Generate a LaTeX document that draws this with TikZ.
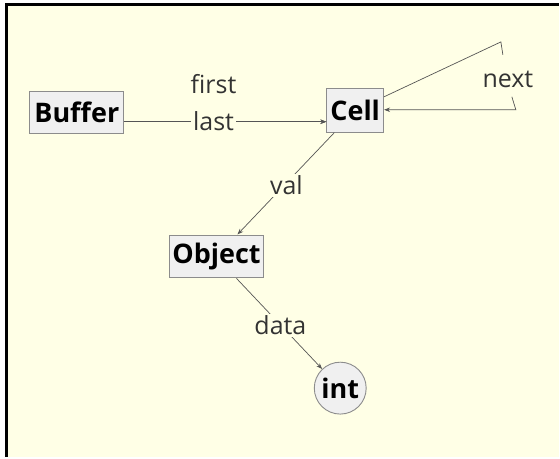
\documentclass[tikz,border=0pt]{standalone}
\usepackage{fontspec}
\setmainfont{Open Sans}
\usetikzlibrary{arrows.meta,calc}
\definecolor{paper}{HTML}{FFFFE6}
\definecolor{boxfill}{HTML}{F0F0F0}
\definecolor{boxline}{HTML}{8C8C8C}
\definecolor{edgecol}{HTML}{555555}
\definecolor{labcol}{HTML}{333333}
\begin{document}
\begin{tikzpicture}[x=1pt,y=-1pt,
  classbox/.style={draw=boxline,fill=boxfill,line width=0.9pt,rectangle,inner sep=0pt,
    font=\fontsize{27}{30}\selectfont\bfseries},
  primbox/.style={draw=boxline,fill=boxfill,line width=0.9pt,circle,inner sep=0pt,
    minimum size=52pt,font=\fontsize{27}{30}\selectfont\bfseries},
  edge/.style={draw=edgecol,line width=0.7pt},
  link/.style={edge,-{Stealth[length=6pt,width=4.5pt]}},
  elabel/.style={text=labcol,font=\fontsize{25}{28}\selectfont,inner sep=2pt},
  cutlabel/.style={elabel,fill=paper}]
  % page, canvas and frame
  \fill[white] (0,0) rectangle (560,458);
  \fill[paper] (7,5) rectangle (560,458);
  \draw[black,line width=2.5pt] (6.5,458) -- (6.5,4.5) -- (560,4.5);
  \useasboundingbox (0,0) rectangle (560,458);

  % types
  \node[classbox,minimum width=94pt,minimum height=42pt] (buffer) at (77,113) {Buffer};
  \node[classbox,minimum width=57pt,minimum height=44pt] (cell) at (356,111) {Cell};
  \node[classbox,minimum width=94pt,minimum height=42pt] (object) at (217,257) {Object};
  \node[primbox] (int) at (341,389) {int};

  % attachment points
  \coordinate (bufout) at (buffer.east |- 0,122);
  \coordinate (cellin) at (cell.west |- 0,122);
  \coordinate (cellval) at (335,133);
  \coordinate (objin) at (238,235);
  \coordinate (objdata) at (237,279);
  \coordinate (loopa) at (cell.east |- 0,97);
  \coordinate (loopb) at (502,42);
  \coordinate (loopc) at (504,55);
  \coordinate (loopd) at (513,97);
  \coordinate (loope) at (517,110);
  \coordinate (loopf) at (cell.east |- 0,110);

  % Buffer -> Cell (first, last)
  \draw[link] (bufout) -- (cellin);
  \draw[link] (bufout) -- (cellin);
  \node[elabel] (lfirst) at (214,84) {first};
  \node[cutlabel] (llast) at (214,121) {last};

  % Cell -> Cell (next)
  \draw[edge] (loopa) -- (loopb) -- (loopc);
  \draw[link] (loopd) -- (loope) -- (loopf);
  \node[elabel] (lnext) at (509,80) {next};

  % Cell -> Object (val)
  \draw[link] (cellval) -- (objin);
  \node[cutlabel] (lval) at (287,186) {val};

  % Object -> int (data)
  \draw[link] (objdata) -- (int);
  \node[cutlabel] (ldata) at (281,326) {data};
\end{tikzpicture}
\end{document}
